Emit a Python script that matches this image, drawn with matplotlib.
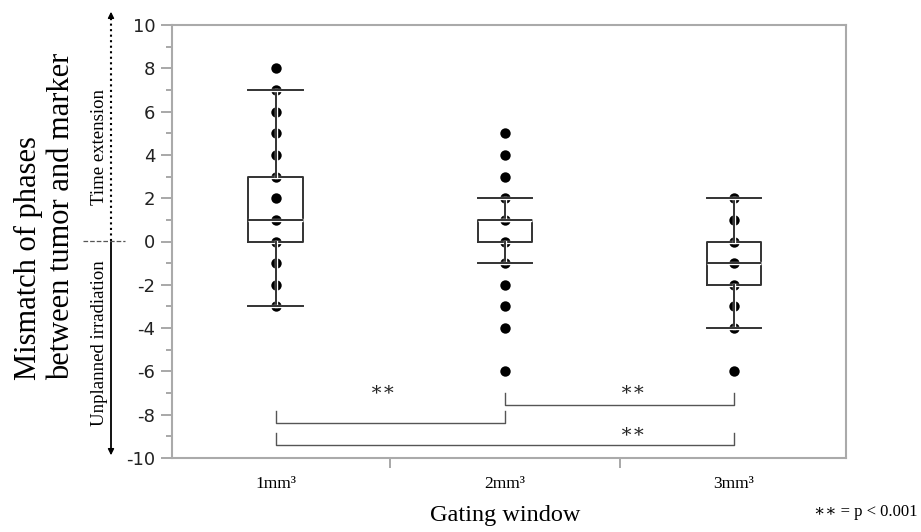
import matplotlib
matplotlib.use('Agg')
import matplotlib.pyplot as plt
import matplotlib.patheffects as pe
from matplotlib.lines import Line2D

plt.rcParams['axes.unicode_minus'] = False

# data
groups = ['1mm³', '2mm³', '3mm³']
points = [
    [8, 7, 6, 5, 4, 3, 2, 1, 0, -1, -2, -3],
    [5, 4, 3, 2, 1, 0, -1, -2, -3, -4, -6],
    [2, 1, 0, -1, -2, -3, -4, -6],
]
q1 = [0, 0, -2]
med = [1, 1, -1]
q3 = [3, 1, 0]
whislo = [-3, -1, -4]
whishi = [7, 2, 2]

# significance brackets: (left group, right group, bar level, star x, star y)
brackets = [(1, 2, -8.4, 1.47, -6.85),
            (2, 3, -7.55, 2.56, -6.85),
            (1, 3, -9.4, 2.56, -8.8)]

serif = ['Liberation Serif', 'DejaVu Serif']
W, H = 921, 532

fig = plt.figure(figsize=(W / 100, H / 100), dpi=100)
ax = fig.add_axes([172 / W, 1 - 458 / H, 674 / W, 433 / H])

pos = [1, 2, 3]
for x, vals in zip(pos, points):
    ax.scatter([x] * len(vals), vals, s=56, color='black', zorder=2, linewidths=0)

stats = [dict(q1=a, med=m, q3=b, whislo=lo, whishi=hi, fliers=[], label=g)
         for a, m, b, lo, hi, g in zip(q1, med, q3, whislo, whishi, groups)]
white = [pe.withStroke(linewidth=2.4, foreground='white')]
lp = dict(color='#333333', linewidth=1.4, path_effects=white)
art = ax.bxp(stats, positions=pos, widths=0.24, showfliers=False,
             boxprops=lp, whiskerprops=lp, capprops=lp, medianprops=lp,
             capwidths=0.24, manage_ticks=False)
for key in ('boxes', 'whiskers', 'caps', 'medians'):
    for a in art[key]:
        a.set_zorder(3)

for l, r, yb, sx, sy in brackets:
    ax.plot([l, l, r, r], [yb + 0.55, yb, yb, yb + 0.55], color='#555555', lw=1)
    ax.text(sx, sy, '∗∗', ha='center', va='center', fontsize=14,
            family=serif, color='#222222')

ax.set_xlim(0.546, 3.489)
ax.set_ylim(-10, 10)
ax.set_yticks(range(-10, 11, 2))
ax.set_yticks(range(-9, 10, 2), minor=True)
ax.set_xticks(pos)
ax.set_xticklabels(groups, family=serif, fontsize=12.5)
ax.set_xticks([1.5, 2.5], minor=True)
ax.tick_params(axis='x', which='major', length=0, pad=13)
ax.tick_params(axis='x', which='minor', length=7, color='#999999', width=1.2)
ax.tick_params(axis='y', which='major', length=8, color='#999999', width=1.2,
               labelsize=13, labelcolor='#222222', pad=4)
ax.tick_params(axis='y', which='minor', length=4, color='#999999', width=1.2)
for s in ax.spines.values():
    s.set_color('#aaaaaa')
    s.set_linewidth(1.5)

fig.text(505 / W, 1 - 515 / H, 'Gating window', ha='center', va='center',
         family=serif, fontsize=17.5)
fig.text(917 / W, 1 - 512 / H, '∗∗ = p < 0.001', ha='right', va='center',
         family=serif, fontsize=12)

# y label in two lines
fig.text(28 / W, 1 - 380 / H, 'Mismatch of phases', rotation=90,
         ha='center', va='bottom', family=serif, fontsize=22)
fig.text(62 / W, 1 - 380 / H, 'between tumor and marker', rotation=90,
         ha='center', va='bottom', family=serif, fontsize=22)

# direction arrow and zero marker
fig.add_artist(Line2D([111 / W] * 2, [1 - 241 / H, 1 - 14 / H], ls=':',
                      color='black', lw=1.5))
fig.add_artist(Line2D([111 / W] * 2, [1 - 241 / H, 1 - 452 / H], ls='-',
                      color='black', lw=1.3))
fig.add_artist(Line2D([83 / W, 125 / W], [1 - 241 / H] * 2, ls='--',
                      color='#555555', lw=0.9))
ax.annotate('', xy=(111, H - 9), xytext=(111, H - 20), xycoords='figure pixels',
            arrowprops=dict(arrowstyle='-|>', color='black', lw=1, mutation_scale=9))
ax.annotate('', xy=(111, H - 458), xytext=(111, H - 447), xycoords='figure pixels',
            arrowprops=dict(arrowstyle='-|>', color='black', lw=1, mutation_scale=9))
fig.text(99 / W, 1 - 147 / H, 'Time extension', rotation=90, ha='center',
         va='center', family=serif, fontsize=13.5)
fig.text(99 / W, 1 - 343 / H, 'Unplanned irradiation', rotation=90, ha='center',
         va='center', family=serif, fontsize=13.5)

fig.savefig('out.png', dpi=100)
